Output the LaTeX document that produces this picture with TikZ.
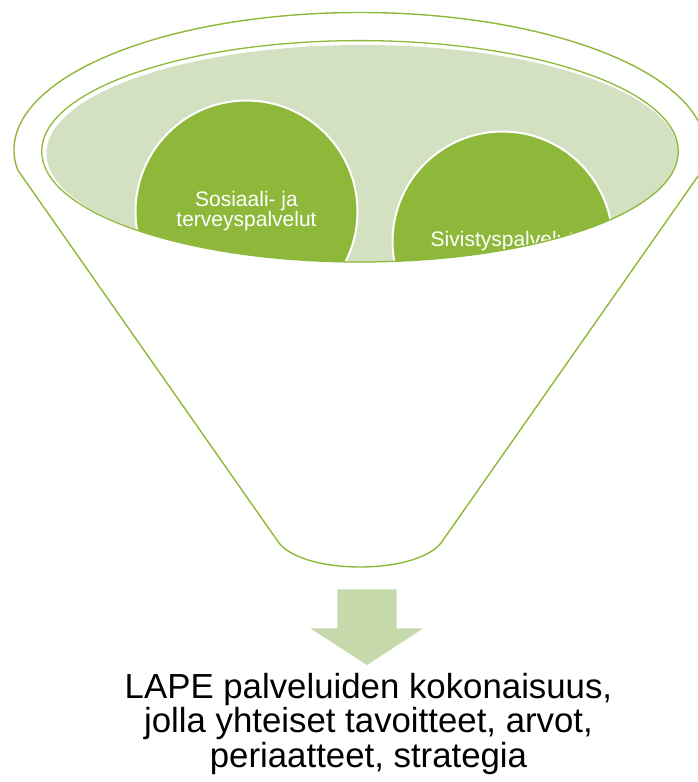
\documentclass[tikz,border=0pt]{standalone}
\usepackage{fontspec}
\setmainfont{Liberation Sans}
\definecolor{lapegreen}{HTML}{8DB83A}
\definecolor{lapelight}{HTML}{D3E0C1}
\definecolor{lapearrow}{HTML}{C6D9AA}
\definecolor{lapeline}{HTML}{8DB83A}
\begin{document}
\begin{tikzpicture}[x=1pt,y=-1pt,
  funnelline/.style={draw=lapeline, line width=1.4pt, line join=round},
  ball/.style={circle, fill=lapegreen, draw=white, line width=2pt,
    text=white, align=center, inner sep=0pt,
    font=\fontsize{21}{20}\selectfont},
  outcome/.style={align=center, text=black, inner sep=0pt,
    font=\fontsize{34.8}{34.5}\selectfont}]
\useasboundingbox (0,0) rectangle (697,782);

% funnel outline
\coordinate (lc) at (17.7,170);
\coordinate (rb) at (441,543);
\coordinate (lb) at (279,543);
\draw[funnelline] (lc)
  arc[start angle=171.63, end angle=368.37, x radius=346, y radius=137.5]
  -- (rb) .. controls (415,575) and (305,575) .. (lb)
  -- cycle;

% inner opening with the service circles
\begin{scope}
  \clip (360,151.3) ellipse[x radius=318.3, y radius=110.7];
  \clip (362.5,153.5) ellipse[x radius=316, y radius=108.5];
  \fill[lapelight] (362.5,153.5) ellipse[x radius=316, y radius=108.5];
  \node[ball, minimum size=222pt] (sos) at (246.5,211.5) {Sosiaali- ja\\terveyspalvelut};
  \node[ball, minimum size=220pt] (siv) at (502.5,241.5) {Sivistyspalvelut};
\end{scope}
\draw[lapeline, line width=1.3pt] (360,151.3) ellipse[x radius=318.3, y radius=110.7];

% arrow
\coordinate (atip) at (367,665);
\fill[lapearrow] (337.3,589.3) -- (396.7,589.3) -- (396.7,628.3) -- (423.3,628.3)
  -- (atip) -- (310.3,628.3) -- (337.3,628.3) -- cycle;

% result text
\node[outcome, anchor=north] (lape) at (368.5,673)
  {LAPE palveluiden kokonaisuus,\\jolla yhteiset tavoitteet, arvot,\\periaatteet, strategia};
\end{tikzpicture}
\end{document}
